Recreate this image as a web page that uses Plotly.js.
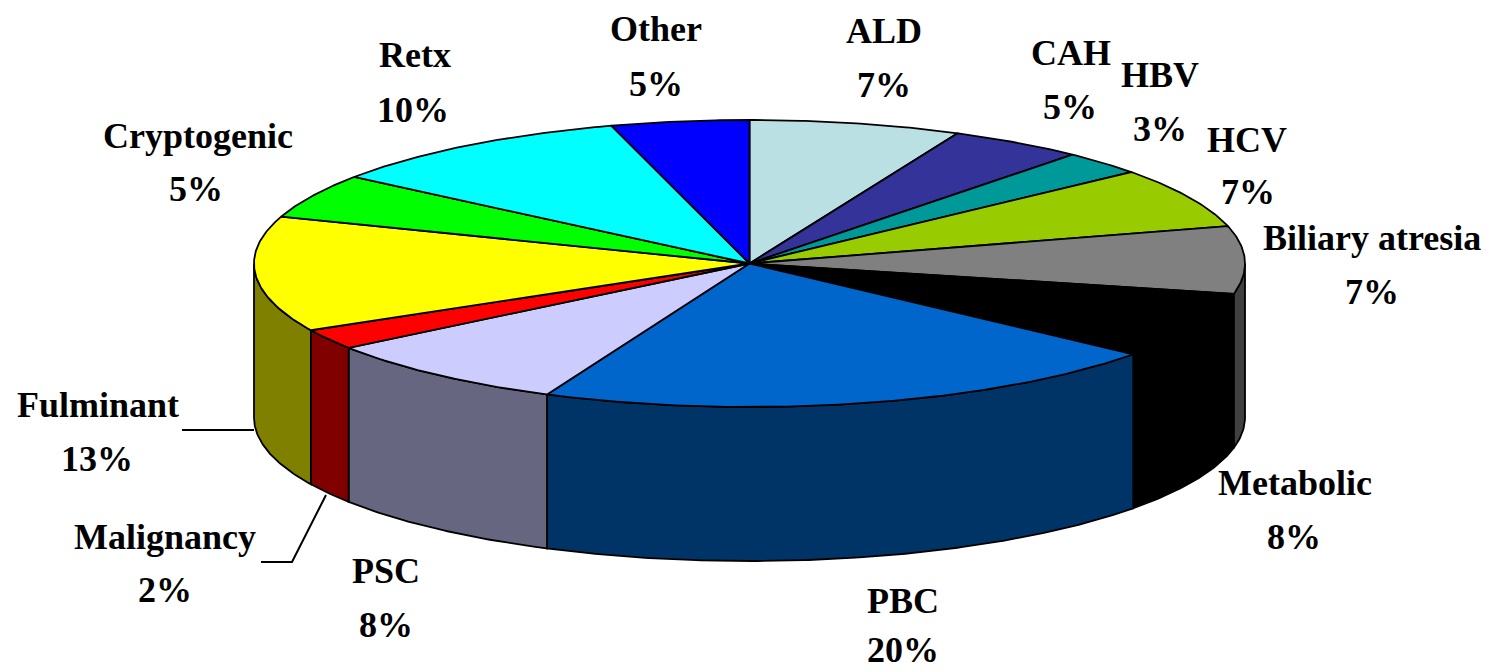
<!DOCTYPE html>
<html>
<head>
<meta charset="utf-8">
<script src="https://cdn.plot.ly/plotly-3.0.1.min.js"></script>
<style>html,body{margin:0;padding:0;background:#fff}#chart{width:1488px;height:672px}</style>
</head>
<body>
<div id="chart"></div>
<script>
// Data
var categories = ["ALD","CAH","HBV","HCV","Biliary atresia","Metabolic","PBC","PSC","Malignancy","Fulminant","Cryptogenic","Retx","Other"];
var percentLabels = [7,5,3,7,7,8,20,8,2,13,5,10,5];
var sliceShares = [6.9,4.4,2.7,6.8,7.6,7.5,20.8,8.3,2.3,13.0,5.0,10.2,4.5];
var topColors = ["#BBE0E3","#333399","#009999","#99CC00","#808080","#000000","#0066CC","#CCCCFF","#FF0000","#FFFF00","#00FF00","#00FFFF","#0000FF"];
var sideColors = ["#5E7072","#1A1A4D","#004D4D","#4D6600","#404040","#000000","#003366","#666680","#800000","#808000","#008000","#008080","#000080"];

// Projection of the tilted disc
var cx = 749.5, cy = 263.5, rx = 495.5, ry = 143.5, depth = 154;
// Label centres, one per category: name x, name y, percent x, percent y
var nameX = [884,1071,1160,1247,1372,1295,903,386,165,98,198,415,656];
var nameY = [31,53,75,140,238,483,601,571,537,405,136,55,29];
var pctX  = [884,1070,1160,1248,1372,1294,903,386,165,97,196,413,656];
var pctY  = [85,107,129,192,292,537,650,625,590,459,189,110,84];

function arc(a0, a1, dy) {
  var xs = [], ys = [], n = Math.max(2, Math.ceil(Math.abs(a1 - a0) / 0.5));
  for (var i = 0; i <= n; i++) {
    var t = (a0 + (a1 - a0) * i / n) * Math.PI / 180;
    xs.push(cx + rx * Math.sin(t));
    ys.push(cy - ry * Math.cos(t) + dy);
  }
  return {x: xs, y: ys};
}
var traces = [], tops = [], acc = 0;
var total = sliceShares.reduce(function (a, b) { return a + b; }, 0);
sliceShares.forEach(function (v, i) {
  var a0 = acc / total * 360; acc += v;
  var a1 = acc / total * 360;
  var label = categories[i] + " " + percentLabels[i] + "%";
  // visible wall: the part of the rim on the near half
  var s0 = Math.max(a0, 90), s1 = Math.min(a1, 270);
  if (s1 > s0) {
    var up = arc(s0, s1, 0), down = arc(s1, s0, depth);
    traces.push({type:"scatter", mode:"lines", x: up.x.concat(down.x, [up.x[0]]), y: up.y.concat(down.y, [up.y[0]]),
      fill:"toself", fillcolor: sideColors[i], line:{color:"#000", width:1.8}, name: label, hoverinfo:"name", showlegend:false});
  }
  var rim = arc(a0, a1, 0);
  tops.push({type:"scatter", mode:"lines", x: [cx].concat(rim.x, [cx]), y: [cy].concat(rim.y, [cy]),
    fill:"toself", fillcolor: topColors[i], line:{color:"#000", width:1.8}, name: label, hoverinfo:"name", showlegend:false});
});
traces = traces.concat(tops);

var font = {family:"'Liberation Serif','Times New Roman',serif", size:36, color:"#000"};
var annotations = [];
categories.forEach(function (c, i) {
  annotations.push({x:nameX[i], y:nameY[i], xref:"x", yref:"y", text:"<b>"+c+"</b>", showarrow:false, xanchor:"center", yanchor:"middle", font:font});
  annotations.push({x:pctX[i], y:pctY[i], xref:"x", yref:"y", text:"<b>"+percentLabels[i]+"%</b>", showarrow:false, xanchor:"center", yanchor:"middle", font:font});
});

var leader = {color:"#000", width:2};
var layout = {
  width:1488, height:672, margin:{l:0,r:0,t:0,b:0},
  paper_bgcolor:"#fff", plot_bgcolor:"#fff", showlegend:false,
  xaxis:{range:[0,1488], visible:false, fixedrange:true},
  yaxis:{range:[672,0], visible:false, fixedrange:true},
  annotations:annotations,
  shapes:[
    {type:"line", xref:"x", yref:"y", x0:182, y0:430, x1:254, y1:430, line:leader},
    {type:"path", xref:"x", yref:"y", path:"M326,495 L292,562 L261,562", line:leader}
  ]
};
Plotly.newPlot("chart", traces, layout, {displayModeBar:false, staticPlot:false});
</script>
</body>
</html>
